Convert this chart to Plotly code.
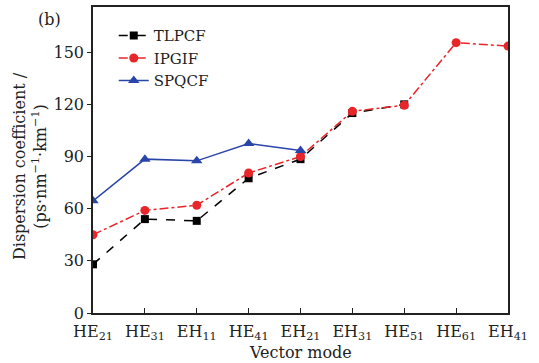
import plotly.graph_objects as go

modes = ["HE<sub>21</sub>", "HE<sub>31</sub>", "EH<sub>11</sub>", "HE<sub>41</sub>", "EH<sub>21</sub>",
         "EH<sub>31</sub>", "HE<sub>51</sub>", "HE<sub>61</sub>", "EH<sub>41</sub>"]
tlpcf = [28, 54, 53, 77.5, 88.5, 115, 120]
ipgif = [45, 59, 62, 80.5, 90, 116, 119.5, 155.5, 153.5]
spqcf = [64.5, 88.5, 87.5, 97.5, 93.5]
yticks = [0, 30, 60, 90, 120, 150]

FONT = "DejaVu Serif"
xidx = list(range(len(modes)))

fig = go.Figure()
fig.add_trace(go.Scatter(x=xidx[:len(tlpcf)], y=tlpcf, name="TLPCF", mode="lines+markers",
                         line=dict(color="black", width=1.5, dash="dash"),
                         marker=dict(symbol="square", size=8, color="black")))
fig.add_trace(go.Scatter(x=xidx[:len(ipgif)], y=ipgif, name="IPGIF", mode="lines+markers",
                         line=dict(color="#e8262a", width=1.5, dash="dashdot"),
                         marker=dict(symbol="circle", size=9, color="#e8262a")))
fig.add_trace(go.Scatter(x=xidx[:len(spqcf)], y=spqcf, name="SPQCF", mode="lines+markers",
                         line=dict(color="#2a45a8", width=1.5),
                         marker=dict(symbol="triangle-up", size=10, color="#2a45a8")))

fig.update_layout(
    width=539, height=363,
    margin=dict(l=93, r=31, t=7, b=50),
    paper_bgcolor="white", plot_bgcolor="white",
    font=dict(family=FONT, size=16, color="#222"),
    showlegend=True,
    legend=dict(x=0.05, y=0.96, xanchor="left", yanchor="top", bgcolor="rgba(0,0,0,0)",
                font=dict(size=15, family=FONT), tracegroupgap=0, itemwidth=30),
    xaxis=dict(tickmode="array", tickvals=xidx, ticktext=modes, range=[0, 8],
               showline=True, linecolor="#222", linewidth=1.5, mirror=True, automargin=False,
               ticks="inside", ticklen=5, tickcolor="#222", showgrid=False, zeroline=False,
               tickfont=dict(size=16), ticklabelstandoff=3),
    yaxis=dict(tickmode="array", tickvals=yticks, range=[0, 176],
               showline=True, linecolor="#222", linewidth=1.5, mirror=True, automargin=False,
               ticks="outside", ticklen=4, tickcolor="#222", showgrid=False, zeroline=False,
               tickfont=dict(size=16)),
)
fig.add_annotation(text="(b)", xref="paper", yref="paper", x=-0.105, y=0.96,
                   xanchor="center", yanchor="middle", showarrow=False, font=dict(size=16, family=FONT))
fig.add_annotation(text="Vector mode", xref="paper", yref="paper", x=0.5, y=-0.13,
                   xanchor="center", yanchor="middle", showarrow=False, font=dict(size=16, family=FONT))
fig.add_annotation(text="Dispersion coefficient /<br>(ps·nm<sup>−1</sup>·km<sup>−1</sup>)",
                   xref="paper", yref="paper", x=-0.152, y=0.48, textangle=-90,
                   xanchor="center", yanchor="middle", showarrow=False, font=dict(size=16, family=FONT))

fig.write_html("out.html", config={"displayModeBar": False},
               post_script="document.body.style.margin='0';document.body.style.overflow='hidden';")
